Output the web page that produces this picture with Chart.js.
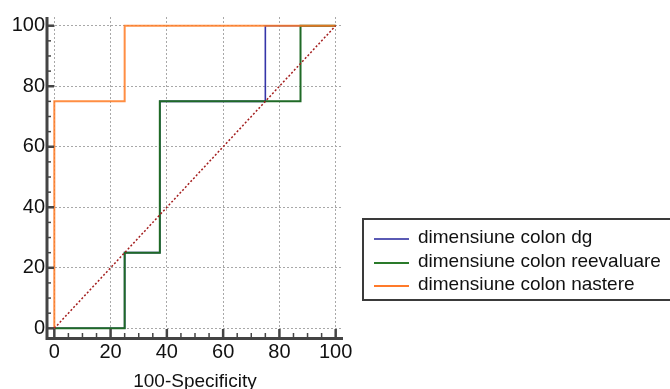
<!DOCTYPE html>
<html>
<head>
<meta charset="utf-8">
<script src="https://cdn.jsdelivr.net/npm/chart.js@4.4.1/dist/chart.umd.min.js"></script>
<style>
  html, body { margin: 0; padding: 0; background: #fff; overflow: hidden; }
  #wrap { position: relative; width: 670px; height: 389px; }
  #roc { position: absolute; left: 0; top: 0; }
  #legend {
    position: absolute; left: 362px; top: 218px; width: 330px; height: 79px;
    border: 2px solid #3a3a3a; box-sizing: content-box;
    font-family: "Liberation Sans", Arial, sans-serif; font-size: 19px; color: #111;
  }
  .row { position: absolute; left: 0; height: 23px; line-height: 23px; white-space: nowrap; }
  .swatch { position: absolute; left: 10px; top: 11px; width: 35px; height: 2px; }
  .txt { position: absolute; left: 54px; top: -2px; }
</style>
</head>
<body>
<div id="wrap">
  <canvas id="roc" width="670" height="389"></canvas>
  <div id="legend"></div>
</div>
<script>
// ROC curves: false positive rate (100-Specificity) vs sensitivity, in percent
const seriesNames = ['dimensiune colon dg', 'dimensiune colon reevaluare', 'dimensiune colon nastere'];
const seriesColors = ['#3535a8', '#1f6a26', '#ff7420'];
const swatchColors = ['#5a5ab4', '#2a7a2a', '#ff7a2a'];

const dgFpr  = [0, 25, 25, 37.5, 37.5, 75, 75, 100];
const dgTpr  = [0, 0, 25, 25, 75, 75, 100, 100];

const reevFpr = [0, 25, 25, 37.5, 37.5, 87.5, 87.5, 100];
const reevTpr = [0, 0, 25, 25, 75, 75, 100, 100];

const nastFpr = [0, 0, 25, 25, 100];
const nastTpr = [0, 75, 75, 100, 100];

// reference line of no discrimination
const diagFpr = [0, 100];
const diagTpr = [0, 100];

const xTickLabels = [0, 20, 40, 60, 80, 100];
const yTickLabels = [0, 20, 40, 60, 80, 100];
const minorTicks = [0, 5, 10, 15, 20, 25, 30, 35, 40, 45, 50, 55, 60, 65, 70, 75, 80, 85, 90, 95, 100];

const FONT = '"Liberation Sans", Arial, sans-serif';

function pts(xs, ys) { return xs.map((x, i) => ({ x: x, y: ys[i] })); }

// axis lines with inward major/minor ticks
const axisPlugin = {
  id: 'axisTicks',
  afterDraw(chart) {
    const { ctx, chartArea: a, scales: { x, y } } = chart;
    ctx.save();
    ctx.strokeStyle = '#444';
    ctx.lineCap = 'butt';
    // minor ticks
    ctx.lineWidth = 1.5;
    minorTicks.forEach(v => {
      if (v % 20 === 0) return;
      const px = x.getPixelForValue(v);
      ctx.beginPath(); ctx.moveTo(px, a.bottom); ctx.lineTo(px, a.bottom - 4); ctx.stroke();
      const py = y.getPixelForValue(v);
      ctx.beginPath(); ctx.moveTo(a.left, py); ctx.lineTo(a.left + 4, py); ctx.stroke();
    });
    // major ticks
    ctx.lineWidth = 2.5;
    xTickLabels.forEach(v => {
      const px = x.getPixelForValue(v);
      ctx.beginPath(); ctx.moveTo(px, a.bottom); ctx.lineTo(px, a.bottom - 8); ctx.stroke();
    });
    yTickLabels.forEach(v => {
      const py = y.getPixelForValue(v);
      ctx.beginPath(); ctx.moveTo(a.left, py); ctx.lineTo(a.left + 7, py); ctx.stroke();
    });
    // axis lines
    ctx.lineWidth = 3;
    ctx.beginPath(); ctx.moveTo(a.left, a.top); ctx.lineTo(a.left, a.bottom + 1.5); ctx.lineTo(a.right, a.bottom + 1.5); ctx.stroke();
    ctx.restore();
  }
};

const chart = new Chart(document.getElementById('roc'), {
  type: 'scatter',
  data: {
    datasets: [
      { label: seriesNames[0], data: pts(dgFpr, dgTpr), showLine: true, borderColor: seriesColors[0], borderWidth: 1.6, pointRadius: 0, order: 3 },
      { label: seriesNames[1], data: pts(reevFpr, reevTpr), showLine: true, borderColor: seriesColors[1], borderWidth: 2, pointRadius: 0, order: 2 },
      { label: seriesNames[2], data: pts(nastFpr, nastTpr), showLine: true, borderColor: 'rgba(255,122,34,0.85)', borderWidth: 2, pointRadius: 0, order: 1 },
      { label: 'diag', data: pts(diagFpr, diagTpr), showLine: true, borderColor: '#a41e1e', borderWidth: 1.5, borderDash: [2, 2], pointRadius: 0, order: 0 }
    ]
  },
  options: {
    responsive: false,
    animation: false,
    layout: { padding: { left: 0, right: 327, top: 17, bottom: 0 } },
    plugins: { legend: { display: false }, tooltip: { enabled: false } },
    scales: {
      x: {
        type: 'linear', min: -2.6, max: 102.6,
        afterBuildTicks: s => { s.ticks = xTickLabels.map(v => ({ value: v })); },
        afterFit: s => { s.height = 52; },
        grid: { color: '#a8a8a8', lineWidth: 1, drawTicks: false },
        border: { display: false, dash: [2, 2] },
        ticks: { color: '#111', font: { family: FONT, size: 20 }, padding: 3, maxRotation: 0 },
        title: { display: true, text: '100-Specificity', color: '#111', font: { family: FONT, size: 19 }, padding: { top: 0, bottom: -4 } }
      },
      y: {
        type: 'linear', min: -2.87, max: 102.88,
        afterBuildTicks: s => { s.ticks = yTickLabels.map(v => ({ value: v })); },
        afterFit: s => { s.width = 47; },
        grid: { color: '#a8a8a8', lineWidth: 1, drawTicks: false },
        border: { display: false, dash: [2, 2] },
        ticks: { color: '#111', font: { family: FONT, size: 20 }, padding: 2 }
      }
    }
  },
  plugins: [axisPlugin]
});

// legend built from the series names and colours
const legend = document.getElementById('legend');
seriesNames.forEach((name, i) => {
  const row = document.createElement('div');
  row.className = 'row';
  row.style.top = (7 + i * 23.5) + 'px';
  const sw = document.createElement('span');
  sw.className = 'swatch';
  sw.style.background = swatchColors[i];
  const tx = document.createElement('span');
  tx.className = 'txt';
  tx.textContent = name;
  row.appendChild(sw); row.appendChild(tx);
  legend.appendChild(row);
});
</script>
</body>
</html>
